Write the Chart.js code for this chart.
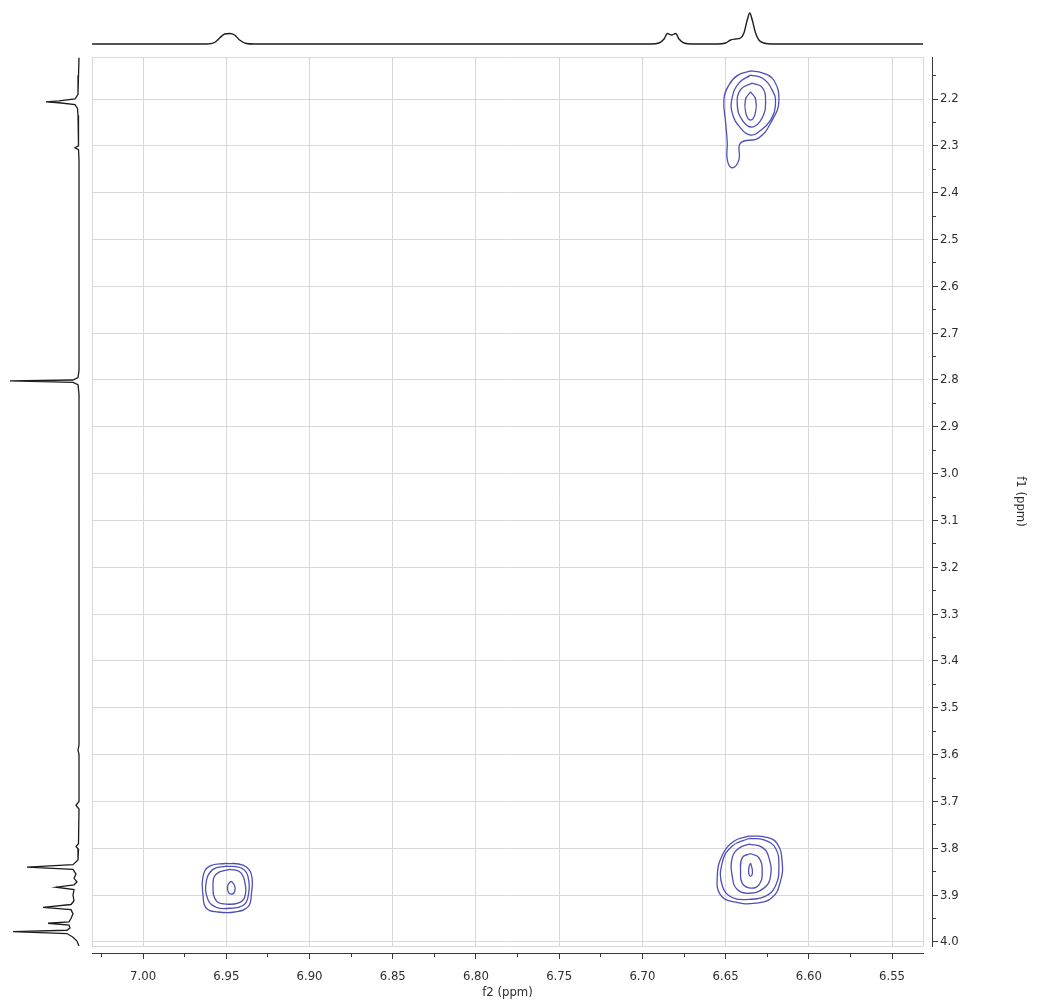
<!DOCTYPE html>
<html>
<head>
<meta charset="utf-8">
<title>2D NMR f2 / f1</title>
<script src="https://cdn.jsdelivr.net/npm/chart.js@4.4.1/dist/chart.umd.min.js"></script>
<style>
  html, body { margin: 0; padding: 0; background: #fff; }
  #wrap { position: relative; width: 1039px; height: 1004px; }
  #wrap canvas { position: absolute; }
</style>
</head>
<body>
<div id="wrap">
  <canvas id="mainChart" width="1039" height="1004" style="left:0;top:0"></canvas>
  <canvas id="topTrace" width="831" height="50" style="left:92px;top:0"></canvas>
  <canvas id="sideTrace" width="91" height="889" style="left:0;top:57px"></canvas>
</div>
<script>
// axis ranges (ppm)
const f2Range = [6.5314, 7.0307];
const f1Range = [2.1103, 4.0086];

// tick values
const f2Major = [7.00, 6.95, 6.90, 6.85, 6.80, 6.75, 6.70, 6.65, 6.60, 6.55];
const f2Minor = [7.025, 6.975, 6.925, 6.875, 6.825, 6.775, 6.725, 6.675, 6.625, 6.575];
const f1Major = [2.2, 2.3, 2.4, 2.5, 2.6, 2.7, 2.8, 2.9, 3.0, 3.1, 3.2, 3.3, 3.4, 3.5, 3.6, 3.7, 3.8, 3.9, 4.0];
const f1Minor = [2.15, 2.25, 2.35, 2.45, 2.55, 2.65, 2.75, 2.85, 2.95, 3.05, 3.15, 3.25, 3.35, 3.45, 3.55, 3.65, 3.75, 3.85, 3.95];

// 1D projection along f2: [ppm, intensity]
const topTrace = [
  [7.031, 0], [6.962, 0], [6.957, 1.5], [6.954, 6], [6.951, 10], [6.948, 10.5], [6.945, 9], [6.942, 4], [6.938, 0.5], [6.933, 0],
  [6.695, 0], [6.690, 1], [6.687, 5], [6.685, 10.5], [6.6825, 9], [6.680, 10.5], [6.678, 5], [6.675, 1], [6.670, 0],
  [6.655, 0], [6.650, 1], [6.647, 4], [6.644, 5], [6.641, 6], [6.639, 11], [6.637, 24], [6.6355, 31], [6.634, 24],
  [6.632, 11], [6.630, 4], [6.627, 1], [6.622, 0], [6.531, 0]
];

// 1D projection along f1: [ppm, intensity]
const sideTrace = [
  [2.112, 0], [2.150, 0.5], [2.190, 1], [2.200, 4], [2.204, 20], [2.206, 33], [2.208, 20], [2.212, 4], [2.220, 1.5],
  [2.235, 1], [2.260, 0.5], [2.300, 0.5], [2.304, 4], [2.308, 0.5], [2.330, 0],
  [2.780, 0], [2.795, 1], [2.800, 6], [2.802, 69], [2.805, 6], [2.810, 1], [2.830, 0],
  [3.580, 0], [3.590, 1], [3.600, 0], [3.700, 0], [3.708, 3], [3.716, 0],
  [3.790, 0.5], [3.796, 3], [3.802, 0.5], [3.825, 1], [3.835, 6], [3.840, 52], [3.845, 6], [3.855, 3],
  [3.864, 5], [3.872, 2], [3.878, 5], [3.883, 23], [3.888, 5], [3.900, 6], [3.912, 5], [3.920, 8], [3.926, 36],
  [3.931, 8], [3.940, 6], [3.950, 8], [3.957, 10], [3.960, 31], [3.964, 10], [3.970, 9], [3.975, 12], [3.978, 66],
  [3.982, 12], [3.990, 6], [3.998, 2], [4.009, 0]
];

// contour rings, [f2, f1] pairs
const peakA = [
  [[6.635, 2.140], [6.628, 2.144], [6.621, 2.160], [6.618, 2.205], [6.622, 2.245], [6.630, 2.283], [6.641, 2.294],
   [6.642, 2.330], [6.646, 2.347], [6.649, 2.330], [6.649, 2.294], [6.650, 2.250], [6.651, 2.200], [6.648, 2.170],
   [6.643, 2.150], [6.635, 2.140]],
  [[6.635, 2.149], [6.628, 2.155], [6.622, 2.181], [6.620, 2.209], [6.623, 2.245], [6.630, 2.270], [6.635, 2.277],
   [6.641, 2.262], [6.646, 2.230], [6.646, 2.196], [6.642, 2.166], [6.635, 2.149]],
  [[6.634, 2.166], [6.628, 2.175], [6.626, 2.205], [6.628, 2.240], [6.634, 2.260], [6.640, 2.245], [6.643, 2.212],
   [6.641, 2.180], [6.634, 2.166]],
  [[6.635, 2.185], [6.632, 2.200], [6.632, 2.228], [6.635, 2.245], [6.638, 2.228], [6.638, 2.200], [6.635, 2.185]]
];
const peakB = [
  [[6.950, 3.832], [6.940, 3.836], [6.935, 3.855], [6.935, 3.900], [6.937, 3.925], [6.945, 3.936], [6.955, 3.936],
   [6.962, 3.928], [6.964, 3.900], [6.964, 3.860], [6.960, 3.838], [6.950, 3.832]],
  [[6.950, 3.838], [6.941, 3.842], [6.937, 3.860], [6.937, 3.905], [6.940, 3.922], [6.948, 3.928], [6.956, 3.926],
   [6.961, 3.910], [6.962, 3.870], [6.958, 3.845], [6.950, 3.838]],
  [[6.948, 3.845], [6.942, 3.850], [6.939, 3.870], [6.939, 3.905], [6.943, 3.917], [6.950, 3.919], [6.956, 3.912],
   [6.958, 3.880], [6.956, 3.855], [6.948, 3.845]],
  [[6.947, 3.870], [6.945, 3.880], [6.945, 3.892], [6.947, 3.898], [6.949, 3.892], [6.949, 3.878], [6.947, 3.870]]
];
const peakC = [
  [[6.636, 3.774], [6.626, 3.776], [6.619, 3.790], [6.616, 3.830], [6.617, 3.870], [6.622, 3.905], [6.632, 3.917],
   [6.644, 3.915], [6.653, 3.900], [6.655, 3.860], [6.652, 3.815], [6.645, 3.785], [6.636, 3.774]],
  [[6.636, 3.779], [6.627, 3.782], [6.620, 3.800], [6.618, 3.840], [6.620, 3.880], [6.626, 3.902], [6.636, 3.909],
   [6.646, 3.905], [6.652, 3.880], [6.652, 3.830], [6.646, 3.795], [6.636, 3.779]],
  [[6.636, 3.791], [6.628, 3.798], [6.624, 3.820], [6.623, 3.860], [6.627, 3.885], [6.636, 3.896], [6.643, 3.888],
   [6.646, 3.860], [6.646, 3.820], [6.642, 3.800], [6.636, 3.791]],
  [[6.635, 3.811], [6.630, 3.820], [6.628, 3.850], [6.630, 3.878], [6.635, 3.885], [6.640, 3.875], [6.641, 3.850],
   [6.640, 3.820], [6.635, 3.811]],
  [[6.635, 3.832], [6.634, 3.845], [6.634, 3.855], [6.635, 3.860], [6.636, 3.855], [6.636, 3.840], [6.635, 3.832]]
];

const contourColor = '#4f4fb8';
const traceColor = '#1c1c1c';
const gridColor = '#d8d8d8';
const axisColor = '#3a3a3a';
const labelFont = { family: "'DejaVu Sans Condensed', 'DejaVu Sans', sans-serif", size: 13 };

const isMajorF2 = v => Math.round(v * 1000) % 50 === 0;
const isMajorF1 = v => Math.round(v * 100) % 10 === 0;
const asTicks = list => list.slice().sort((a, b) => a - b).map(v => ({ value: v }));

const ringDataset = ring => ({
  data: ring.map(([x, y]) => ({ x, y })),
  showLine: true,
  pointRadius: 0,
  borderColor: contourColor,
  borderWidth: 1.3,
  tension: 0.45,
  fill: false
});

const contourSets = [...peakA, ...peakB, ...peakC].map(ringDataset);

new Chart(document.getElementById('mainChart'), {
  type: 'scatter',
  data: { datasets: contourSets },
  options: {
    responsive: false,
    animation: false,
    layout: { padding: { left: 92, top: 57, right: 0, bottom: 0 } },
    plugins: { legend: { display: false }, tooltip: { enabled: false } },
    scales: {
      // grid carriers (also leave the gap between frame and axis)
      x: {
        type: 'linear', position: 'bottom', weight: 0, reverse: true,
        min: f2Range[0], max: f2Range[1],
        afterBuildTicks: s => { s.ticks = asTicks([f2Range[0], ...f2Major, f2Range[1]]); },
        afterFit: s => { s.height = 7; },
        grid: { color: gridColor, lineWidth: 1, drawTicks: false },
        border: { display: false },
        ticks: { display: false }
      },
      y: {
        type: 'linear', position: 'right', weight: 0, reverse: true,
        min: f1Range[0], max: f1Range[1],
        afterBuildTicks: s => { s.ticks = asTicks([f1Range[0], ...f1Major, f1Range[1]]); },
        afterFit: s => { s.width = 9; },
        grid: { color: gridColor, lineWidth: 1, drawTicks: false },
        border: { display: false },
        ticks: { display: false }
      },
      // visible axes
      xAxis: {
        type: 'linear', position: 'bottom', weight: 1, reverse: true,
        min: f2Range[0], max: f2Range[1],
        afterBuildTicks: s => { s.ticks = asTicks([...f2Major, ...f2Minor]); },
        afterFit: s => { s.height = 51; },
        grid: {
          drawOnChartArea: false, drawTicks: true, tickLength: 6, tickColor: axisColor, tickWidth: 1,
          tickBorderDash: c => (c.tick && !isMajorF2(c.tick.value)) ? [3, 30] : []
        },
        border: { display: true, color: axisColor, width: 1 },
        ticks: {
          autoSkip: false, maxRotation: 0, padding: 10, color: '#2e2e2e', font: labelFont,
          callback: v => isMajorF2(v) ? v.toFixed(2) : ''
        },
        title: { display: true, text: 'f2 (ppm)', color: '#2e2e2e', font: labelFont, padding: { top: 0, bottom: 4 } }
      },
      yAxis: {
        type: 'linear', position: 'right', weight: 1, reverse: true,
        min: f1Range[0], max: f1Range[1],
        afterBuildTicks: s => { s.ticks = asTicks([...f1Major, ...f1Minor]); },
        afterFit: s => { s.width = 107; },
        grid: {
          drawOnChartArea: false, drawTicks: true, tickLength: 6, tickColor: axisColor, tickWidth: 1,
          tickBorderDash: c => (c.tick && !isMajorF1(c.tick.value)) ? [3, 30] : []
        },
        border: { display: true, color: axisColor, width: 1 },
        ticks: {
          autoSkip: false, padding: 2, color: '#2e2e2e', font: labelFont,
          callback: v => isMajorF1(v) ? v.toFixed(1) : ''
        },
        title: { display: true, text: 'f1 (ppm)', color: '#2e2e2e', font: labelFont, padding: { top: 11, bottom: 0 } }
      }
    }
  }
});

// f2 projection on top
new Chart(document.getElementById('topTrace'), {
  type: 'scatter',
  data: {
    datasets: [{
      data: topTrace.map(([x, y]) => ({ x, y })),
      showLine: true, pointRadius: 0, borderColor: traceColor, borderWidth: 1.4,
      cubicInterpolationMode: 'monotone'
    }]
  },
  options: {
    responsive: false,
    animation: false,
    layout: { padding: 0 },
    plugins: { legend: { display: false }, tooltip: { enabled: false } },
    scales: {
      x: { type: 'linear', display: false, reverse: true, min: f2Range[0], max: f2Range[1] },
      y: { type: 'linear', display: false, min: -6, max: 44 }
    }
  }
});

// f1 projection on the left
new Chart(document.getElementById('sideTrace'), {
  type: 'scatter',
  data: {
    datasets: [{
      data: sideTrace.map(([y, x]) => ({ x, y })),
      showLine: true, pointRadius: 0, borderColor: traceColor, borderWidth: 1.3, tension: 0
    }]
  },
  options: {
    responsive: false,
    animation: false,
    layout: { padding: 0 },
    plugins: { legend: { display: false }, tooltip: { enabled: false } },
    scales: {
      x: { type: 'linear', display: false, reverse: true, min: -12, max: 79 },
      y: { type: 'linear', display: false, reverse: true, min: f1Range[0], max: f1Range[1] }
    }
  }
});
</script>
</body>
</html>
